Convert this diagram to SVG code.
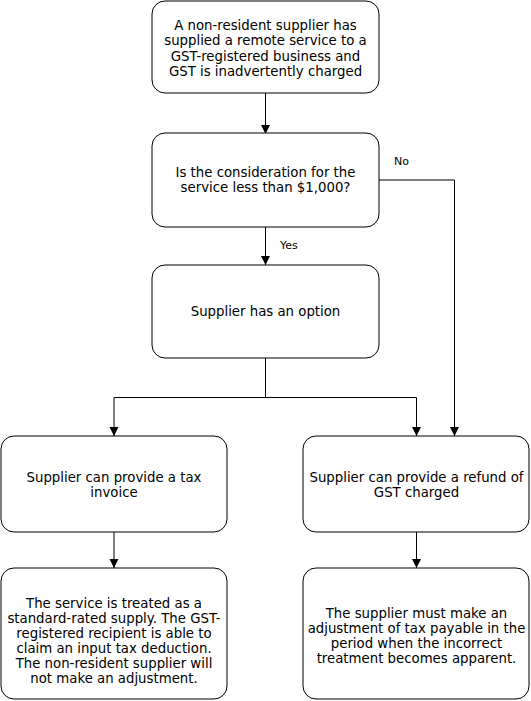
<svg xmlns="http://www.w3.org/2000/svg" width="531" height="701" viewBox="0 0 531 701">
<style>
.box{fill:#fff;stroke:#000;stroke-width:1}
.t{font-family:"DejaVu Sans",Verdana,sans-serif;font-size:13.3px;fill:#000;text-anchor:middle}
.l{font-family:"DejaVu Sans",Verdana,sans-serif;font-size:11px;fill:#000}
.c{fill:none;stroke:#000;stroke-width:1}
</style>
<defs>
<marker id="arr" markerWidth="9" markerHeight="10" refX="9" refY="4.5" orient="auto" markerUnits="userSpaceOnUse">
<path d="M0,0 L9,4.5 L0,9 Z" fill="#000"/>
</marker>
</defs>
<rect width="531" height="701" fill="#fff"/>
<g id="connectors">
<path class="c" d="M265.5,93 V134" marker-end="url(#arr)"/>
<path class="c" d="M265.5,227 V265" marker-end="url(#arr)"/>
<path class="c" d="M379,180 H454.5 V436" marker-end="url(#arr)"/>
<path class="c" d="M265.5,358 V397.5 H114 V436" marker-end="url(#arr)"/>
<path class="c" d="M265.5,397.5 H416.5 V436" marker-end="url(#arr)"/>
<path class="c" d="M114,532 V568" marker-end="url(#arr)"/>
<path class="c" d="M416.5,532 V568" marker-end="url(#arr)"/>
<text class="l" x="394" y="165">No</text>
<text class="l" x="280" y="249">Yes</text>
</g>
<g id="n1">
<rect class="box" x="152" y="1" width="227" height="92" rx="13"/>
<text class="t" x="265.5" y="29.5">A non-resident supplier has</text>
<text class="t" x="265.5" y="45">supplied a remote service to a</text>
<text class="t" x="265.5" y="60.5">GST-registered business and</text>
<text class="t" x="265.5" y="76">GST is inadvertently charged</text>
</g>
<g id="n2">
<rect class="box" x="152" y="133" width="227" height="94" rx="13"/>
<text class="t" x="265.5" y="176.5">Is the consideration for the</text>
<text class="t" x="265.5" y="192">service less than $1,000?</text>
</g>
<g id="n3">
<rect class="box" x="152" y="265" width="227" height="93" rx="13"/>
<text class="t" x="265.5" y="316">Supplier has an option</text>
</g>
<g id="n4">
<rect class="box" x="1" y="436" width="226" height="96" rx="13"/>
<text class="t" x="114" y="481.5">Supplier can provide a tax</text>
<text class="t" x="114" y="496.5">invoice</text>
</g>
<g id="n5">
<rect class="box" x="303" y="436" width="226" height="96" rx="13"/>
<text class="t" x="416.5" y="481.5">Supplier can provide a refund of</text>
<text class="t" x="416.5" y="496.5">GST charged</text>
</g>
<g id="n6">
<rect class="box" x="1" y="568" width="226" height="131" rx="13"/>
<text class="t" x="114" y="607.5">The service is treated as a</text>
<text class="t" x="114" y="622.5">standard-rated supply. The GST-</text>
<text class="t" x="114" y="637.5">registered recipient is able to</text>
<text class="t" x="114" y="652.5">claim an input tax deduction.</text>
<text class="t" x="114" y="668">The non-resident supplier will</text>
<text class="t" x="114" y="683">not make an adjustment.</text>
</g>
<g id="n7">
<rect class="box" x="303" y="568" width="226" height="131" rx="13"/>
<text class="t" x="416.5" y="617.5">The supplier must make an</text>
<text class="t" x="416.5" y="632.5">adjustment of tax payable in the</text>
<text class="t" x="416.5" y="647.5">period when the incorrect</text>
<text class="t" x="416.5" y="662.5">treatment becomes apparent.</text>
</g>
</svg>
